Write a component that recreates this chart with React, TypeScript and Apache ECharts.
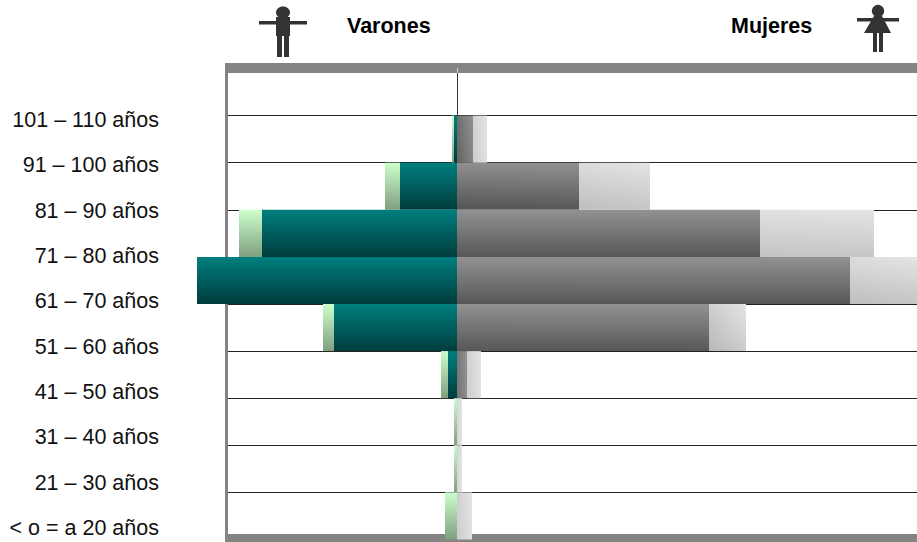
import React, { useEffect, useRef } from "react";
import * as echarts from "echarts";

const ageLabels = ["101 – 110 años", "91 – 100 años", "81 – 90 años", "71 – 80 años", "61 – 70 años", "51 – 60 años", "41 – 50 años", "31 – 40 años", "21 – 30 años", "< o = a 20 años"];
const menDark = [0, 3, 57, 195, 260, 123, 9, 0, 0, 0];
const menLight = [0, 2, 15, 23, 0, 11, 7, 3, 3, 12];
const womenDark = [0, 16, 122, 303, 393, 252, 10, 0, 0, 0];
const womenLight = [0, 14, 71, 114, 70, 37, 14, 5, 5, 15];

const grad = (a: string, b: string) => new echarts.graphic.LinearGradient(0, 0, 0, 1, [
  { offset: 0, color: a },
  { offset: 1, color: b },
]);

// slightly tilted gradient: the top right corner is lightest, the bottom left darkest
const tilted = (w: number, a: string, b: string, p: number, q: number) => {
  const width = Math.max(w, 1);
  const h = 47;
  const gx = -p / width;
  const gy = q / h;
  const n = gx * gx + gy * gy;
  return new echarts.graphic.LinearGradient(1, 0, 1 + gx / n / width, gy / n / h, [
    { offset: 0, color: a },
    { offset: 1, color: b },
  ]);
};

const FONT = "Liberation Sans";
const GRAY = "#848484";
const ICON = "#333333";

export default function App() {
  const ref = useRef<HTMLDivElement>(null);
  useEffect(() => {
    const chart = echarts.init(ref.current!, undefined, { renderer: "svg" });
    const base = { type: "bar", stack: "all", xAxisIndex: 1, yAxisIndex: 1, barCategoryGap: 0, z: 3 };
    chart.setOption({
      animation: false,
      backgroundColor: "#ffffff",
      grid: [
        { left: 228, top: 68.5, width: 689, height: 471 },
        { left: 197, top: 68.5, width: 720, height: 471 },
        { left: 159, top: 120, width: 10, height: 408 },
      ],
      xAxis: [
        { gridIndex: 0, type: "value", min: 0, max: 1, show: false },
        { gridIndex: 1, type: "value", min: -260, max: 460, show: false },
        { gridIndex: 2, type: "value", min: 0, max: 1, show: false },
      ],
      yAxis: [
        {
          gridIndex: 0, type: "category", inverse: true, data: ageLabels,
          axisLine: { show: false }, axisTick: { show: false }, axisLabel: { show: false },
          splitLine: { show: true, lineStyle: { color: "#222222", width: 1 } },
        },
        {
          gridIndex: 1, type: "category", inverse: true, data: ageLabels,
          axisLine: { show: true, onZero: true, lineStyle: { color: "#333333", width: 1 } },
          axisTick: { show: false }, axisLabel: { show: false }, splitLine: { show: false },
        },
        {
          gridIndex: 2, type: "category", inverse: true, data: ageLabels, boundaryGap: false,
          axisLine: { show: false }, axisTick: { show: false }, splitLine: { show: false },
          axisLabel: { show: true, interval: 0, margin: 0, color: "#111111", fontFamily: FONT, fontSize: 21.5, align: "right" },
        },
      ],
      series: [
        { ...base, name: "Varones", data: menDark.map((v) => -v), itemStyle: { color: grad("#007f7f", "#003c3c") } },
        { ...base, name: "Varones (claro)", data: menLight.map((v) => -v), itemStyle: { color: grad("#ccffcc", "#7f9f7f") } },
        {
          ...base, name: "Mujeres",
          data: womenDark.map((v) => ({ value: v, itemStyle: { color: tilted(v, "#929292", "#444444", 0.25, 0.75) } })),
        },
        {
          ...base, name: "Mujeres (claro)",
          data: womenLight.map((v) => ({ value: v, itemStyle: { color: tilted(v, "#e4e4e4", "#b8b8b8", 0.35, 0.65) } })),
        },
      ],
      graphic: [
        { type: "rect", z: 1, shape: { x: 225, y: 63, width: 692, height: 10, r: [2, 0, 0, 0] }, style: { fill: GRAY } },
        { type: "rect", z: 1, shape: { x: 225, y: 63, width: 3, height: 479 }, style: { fill: GRAY } },
        { type: "rect", z: 1, shape: { x: 225, y: 534, width: 692, height: 8 }, style: { fill: GRAY } },
        { type: "line", z: 2, shape: { x1: 457.5, y1: 68, x2: 457.5, y2: 73 }, style: { stroke: "#d0d0d0", lineWidth: 1 } },
        { type: "text", x: 347, y: 26, style: { text: "Varones", fill: "#000", font: `bold 21.5px "${FONT}"`, verticalAlign: "middle" } },
        { type: "text", x: 731, y: 26, style: { text: "Mujeres", fill: "#000", font: `bold 21.5px "${FONT}"`, verticalAlign: "middle" } },
        // male icon
        { type: "ellipse", shape: { cx: 283, cy: 12.5, rx: 7, ry: 6 }, style: { fill: ICON } },
        { type: "rect", shape: { x: 259, y: 21, width: 48, height: 3.5 }, style: { fill: ICON } },
        { type: "rect", shape: { x: 276, y: 17, width: 14, height: 19 }, style: { fill: ICON } },
        { type: "rect", shape: { x: 277, y: 35, width: 5, height: 22 }, style: { fill: ICON } },
        { type: "rect", shape: { x: 284, y: 35, width: 5, height: 22 }, style: { fill: ICON } },
        // female icon
        { type: "circle", shape: { cx: 878, cy: 11, r: 6.2 }, style: { fill: ICON } },
        { type: "rect", shape: { x: 857, y: 18, width: 42, height: 3.5 }, style: { fill: ICON } },
        { type: "polygon", shape: { points: [[874, 16], [882, 16], [891, 33], [864, 33]] }, style: { fill: ICON } },
        { type: "rect", shape: { x: 873, y: 32, width: 4, height: 20 }, style: { fill: ICON } },
        { type: "rect", shape: { x: 879, y: 32, width: 4, height: 20 }, style: { fill: ICON } },
      ],
    });
    return () => chart.dispose();
  }, []);
  return <div ref={ref} style={{ position: "fixed", left: 0, top: 0, width: 917, height: 542 }} />;
}
